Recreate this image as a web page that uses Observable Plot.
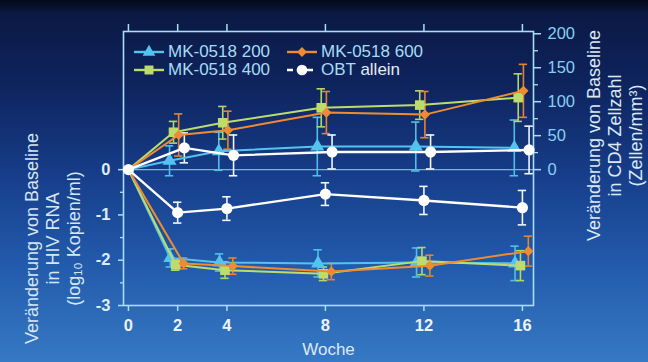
<!DOCTYPE html>
<html>
<head>
<meta charset="utf-8">
<script src="https://cdn.jsdelivr.net/npm/d3@7"></script>
<script src="https://cdn.jsdelivr.net/npm/@observablehq/plot@0.6"></script>
<style>
  html, body { margin: 0; padding: 0; }
  body { width: 648px; height: 362px; overflow: hidden; }
  #wrap {
    position: relative; width: 648px; height: 362px; overflow: hidden;
    font-family: "Liberation Sans", Arial, sans-serif;
    background: linear-gradient(to bottom, #050a1a 0px, #0b1944 14px, #0f2560 90px, #173f8c 180px, #2259aa 260px, #3679c4 362px);
  }
  #wrap > svg { position: absolute; left: 0; top: 0; }
  #wrap .leg { position: absolute; display: flex; align-items: center; height: 20px; font-size: 17px; color: #a6dcf6; white-space: nowrap; }
  #wrap .leg svg { position: static; margin-right: 4px; flex: none; }
</style>
</head>
<body>
<div id="wrap"></div>
<script>
// ---------- data ----------
const weeks = [0, 2, 4, 8, 12, 16];
const seriesNames = ["MK-0518 200", "MK-0518 400", "MK-0518 600", "OBT allein"];

// change in HIV RNA (log10 copies/ml)
const rna200 = [0, -1.95, -2.05, -2.07, -2.05, -2.07];
const rna200Err = [0, 0.20, 0.19, 0.30, 0.32, 0.38];
const rna400 = [0, -2.10, -2.22, -2.30, -2.02, -2.12];
const rna400Err = [0, 0.12, 0.18, 0.15, 0.30, 0.33];
const rna600 = [0, -2.07, -2.13, -2.25, -2.12, -1.80];
const rna600Err = [0, 0.12, 0.18, 0.18, 0.23, 0.33];
const rnaOBT = [0, -0.95, -0.86, -0.54, -0.68, -0.84];
const rnaOBTErr = [0, 0.23, 0.26, 0.25, 0.31, 0.38];

// change in CD4 count (cells/mm3)
const cd4_200 = [0, 13, 27, 34, 34, 32];
const cd4_200Err = [0, 22, 28, 43, 36, 41];
const cd4_400 = [0, 55, 69, 91, 95, 106];
const cd4_400Err = [0, 16, 24, 28, 21, 35];
const cd4_600 = [0, 51, 58, 84, 81, 116];
const cd4_600Err = [0, 31, 28, 31, 34, 39];
const cd4OBT = [0, 32, 21, 26, 26, 29];
const cd4OBTErr = [0, 22, 30, 25, 25, 35];

const leftTicks = [-3, -2, -1, 0];
const leftMinor = [-2.5, -1.5, -0.5];
const rightTicks = [0, 50, 100, 150, 200];
const rightMinor = [25, 75, 125, 175];

const leftTitle = "Veränderung von Baseline\nin HIV RNA\n(log₁₀ Kopien/ml)";
const rightTitle = "Veränderung von Baseline\nin CD4 Zellzahl\n(Zellen/mm³)";
const xTitle = "Woche";

// ---------- styles ----------
const cd4PerUnit = 200 / 3; // right axis units per left axis unit
const style = {
  "MK-0518 200": {color: "#52c4ef", bar: "#4fbfe8", symbol: "triangle", r: 5.2, dxR: -0.30, dxC: -0.33},
  "MK-0518 400": {color: "#bedc6c", bar: "#b3d862", symbol: "square", r: 5.4, dxR: -0.08, dxC: -0.17},
  "MK-0518 600": {color: "#f08c30", bar: "#e8832a", symbol: "diamond2", r: 4.6, dxR: 0.24, dxC: 0.04},
  "OBT allein":  {color: "#ffffff", bar: "#f2f6fa", symbol: "circle", r: 5.6, dxR: 0.0, dxC: 0.27}
};
const rnaVals = {"MK-0518 200": [rna200, rna200Err], "MK-0518 400": [rna400, rna400Err], "MK-0518 600": [rna600, rna600Err], "OBT allein": [rnaOBT, rnaOBTErr]};
const cd4Vals = {"MK-0518 200": [cd4_200, cd4_200Err], "MK-0518 400": [cd4_400, cd4_400Err], "MK-0518 600": [cd4_600, cd4_600Err], "OBT allein": [cd4OBT, cd4OBTErr]};

const rows = [];
for (const s of seriesNames) {
  weeks.forEach((w, i) => {
    rows.push({
      series: s, week: w,
      xr: w === 0 ? 0 : w + style[s].dxR,
      xc: w === 0 ? 0 : w + style[s].dxC,
      rna: rnaVals[s][0][i], rnaErr: rnaVals[s][1][i],
      cd4: cd4Vals[s][0][i] / cd4PerUnit, cd4Err: cd4Vals[s][1][i] / cd4PerUnit
    });
  });
}

const axisCol = "#a9def4";
const cap = 0.17;
const marks = [
  Plot.ruleY([0], {stroke: "#8cc9e8", strokeWidth: 1.2, strokeOpacity: 0.85}),
  Plot.frame({stroke: axisCol, strokeWidth: 1.6}),
  // bottom axis
  Plot.axisX(weeks, {anchor: "bottom", tickSize: 6, tickPadding: 8, fontSize: 16.5, fontWeight: "bold", color: "#edf3fa", stroke: axisCol, strokeWidth: 1.5}),
  // top ticks
  Plot.axisX(weeks, {anchor: "top", tickSize: 8, tickFormat: () => "", stroke: axisCol, strokeWidth: 1.5}),
  // left axis
  Plot.axisY(leftTicks, {anchor: "left", tickSize: 5, tickPadding: 8, fontSize: 16.5, fontWeight: "bold", color: "#dcecf8", stroke: axisCol, strokeWidth: 1.5, tickFormat: d => d === 0 ? "0" : String(d).replace("−", "-")}),
  Plot.axisY(leftMinor, {anchor: "left", tickSize: 3, tickFormat: () => "", stroke: axisCol, strokeWidth: 1.3}),
  // right axis (CD4)
  Plot.axisY(rightTicks.map(v => v / cd4PerUnit), {anchor: "right", tickSize: 7, tickPadding: 7, fontSize: 16.5, color: "#86d0f3", stroke: axisCol, strokeWidth: 1.5, tickFormat: v => String(Math.round(v * cd4PerUnit))}),
  Plot.axisY(rightMinor.map(v => v / cd4PerUnit), {anchor: "right", tickSize: 4, tickFormat: () => "", stroke: axisCol, strokeWidth: 1.3}),
  // titles
  Plot.text([leftTitle], {frameAnchor: "left", text: d => d, rotate: -90, dx: -71, dy: 70, textAnchor: "middle", lineAnchor: "middle", lineHeight: 1.17, fontSize: 18, fill: "#d6e6f4"}),
  Plot.text([rightTitle], {frameAnchor: "right", text: d => d, rotate: -90, dx: 81, dy: -33, textAnchor: "middle", lineAnchor: "middle", lineHeight: 1.17, fontSize: 18, fill: "#dce9f5"}),
  Plot.text([xTitle], {frameAnchor: "bottom", text: d => d, dy: 44, lineAnchor: "middle", fontSize: 17, fill: "#dde9f5"})
];

for (const s of seriesNames) {
  const st = style[s];
  const d = rows.filter(r => r.series === s);
  const e = d.filter(r => r.week > 0);
  for (const [xk, yk, ek] of [["xr", "rna", "rnaErr"], ["xc", "cd4", "cd4Err"]]) {
    marks.push(
      Plot.ruleX(e, {x: xk, y1: r => r[yk] - r[ek], y2: r => r[yk] + r[ek], stroke: st.bar, strokeWidth: 1.6}),
      Plot.ruleY(e, {x1: r => r[xk] - cap, x2: r => r[xk] + cap, y: r => r[yk] + r[ek], stroke: st.bar, strokeWidth: 1.6}),
      Plot.ruleY(e, {x1: r => r[xk] - cap, x2: r => r[xk] + cap, y: r => r[yk] - r[ek], stroke: st.bar, strokeWidth: 1.6})
    );
  }
}
for (const s of seriesNames) {
  const st = style[s];
  const d = rows.filter(r => r.series === s);
  for (const [xk, yk] of [["xr", "rna"], ["xc", "cd4"]]) {
    marks.push(
      Plot.line(d, {x: xk, y: yk, stroke: st.color, strokeWidth: s === "OBT allein" ? 2.4 : 2}),
      Plot.dot(d.filter(r => r.week > 0), {x: xk, y: yk, symbol: st.symbol, r: st.r, fill: st.color, stroke: "none"})
    );
  }
}
marks.push(Plot.dot(rows.filter(r => r.week === 0 && r.series === "OBT allein"), {x: "xr", y: "rna", r: 5.6, fill: "#ffffff"}));

const chart = Plot.plot({
  width: 648, height: 362,
  marginLeft: 123, marginRight: 115, marginTop: 31, marginBottom: 57,
  x: {domain: [-0.2, 16.45], axis: null},
  y: {domain: [-3, 3.05], axis: null},
  style: {background: "transparent", fontFamily: "'Liberation Sans', Arial, sans-serif", color: "#dce9f5", overflow: "visible"},
  marks
});
const wrap = document.getElementById("wrap");
wrap.appendChild(chart);

// ---------- legend ----------
const legendItems = [
  {name: "MK-0518 200", left: 134, top: 42},
  {name: "MK-0518 600", left: 287, top: 42},
  {name: "MK-0518 400", left: 134, top: 60},
  {name: "OBT allein", left: 287, top: 60}
];
const symPath = {
  triangle: d3.symbol(d3.symbolTriangle, 70)(),
  square: d3.symbol(d3.symbolSquare, 80)(),
  diamond2: d3.symbol(d3.symbolDiamond2, 62)(),
  circle: d3.symbol(d3.symbolCircle, 90)()
};
for (const it of legendItems) {
  const st = style[it.name];
  const div = document.createElement("div");
  div.className = "leg";
  div.style.left = it.left + "px";
  div.style.top = it.top + "px";
  const dash = it.name === "OBT allein" ? ' stroke-dasharray="6,4"' : "";
  const label = it.name === "OBT allein"
    ? '<span>OBT <span style="color:#e4ebf2">allein</span></span>'
    : '<span>' + it.name + '</span>';
  div.innerHTML = '<svg width="30" height="16"><line x1="0" x2="30" y1="8" y2="8" stroke="' + st.color + '" stroke-width="2.4"' + dash + '/>' +
    '<path transform="translate(15,8)" d="' + symPath[st.symbol] + '" fill="' + st.color + '"/></svg>' + label;
  wrap.appendChild(div);
}
</script>
</body>
</html>
